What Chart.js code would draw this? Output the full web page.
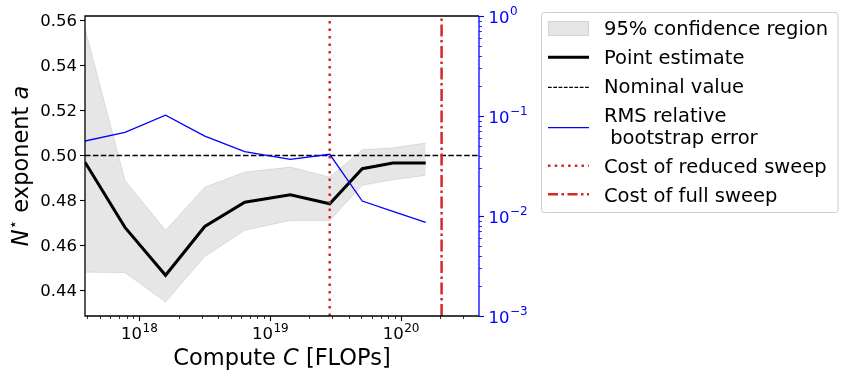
<!DOCTYPE html>
<html>
<head>
<meta charset="utf-8">
<script src="https://cdn.jsdelivr.net/npm/chart.js@4.4.1/dist/chart.umd.min.js"></script>
<style>
  html, body { margin: 0; padding: 0; background: #fff; }
  canvas { display: block; }
</style>
</head>
<body>
<canvas id="sweep" width="849" height="382"></canvas>
<script>
// values
const computeFlops = [3.85e17, 7.78e17, 1.59e18, 3.17e18, 6.41e18, 1.43e19, 2.86e19, 5.07e19, 8.69e19, 1.55e20];
const pointEstimate = [0.497, 0.468, 0.4467, 0.4684, 0.4792, 0.4825, 0.4785, 0.4941, 0.4966, 0.4966];
const ciUpper = [0.5564, 0.4889, 0.4667, 0.4859, 0.4926, 0.4948, 0.4904, 0.5025, 0.5034, 0.5055];
const ciLower = [0.4481, 0.4479, 0.4348, 0.4551, 0.4667, 0.4711, 0.4711, 0.4867, 0.4892, 0.4911];
const rmsError = [0.0562, 0.0687, 0.102, 0.063, 0.044, 0.0369, 0.0414, 0.0141, 0.0111, 0.00865];
const nominalValue = 0.5;
const reducedSweepCost = 2.86e19;
const fullSweepCost = 2.05e20;

const xMin = 3.85e17, xMax = 3.96e20;
const yMin = 0.4286, yMax = 0.562;
const y2Min = 1e-3, y2Max = 1;

const yTickLabels = ['0.44', '0.46', '0.48', '0.50', '0.52', '0.54', '0.56'];
const xTickExps = [18, 19, 20];
const y2TickExps = [-3, -2, -1, 0];

const legendLabels = ['95% confidence region', 'Point estimate', 'Nominal value',
    'RMS relative\n bootstrap error', 'Cost of reduced sweep', 'Cost of full sweep'];

const RED = '#d62728';
const BLUE = '#0000ff';
const BAND = 'rgba(128,128,128,0.2)';
const FONT = '"DejaVu Sans", "Liberation Sans", sans-serif';

function pts(xs, ys) {
    return xs.map((x, i) => ({x: x, y: ys[i]}));
}

function sciLabel(ctx, exp, x, baseY, align, color) {
    const main = '10';
    const sup = String(exp).replace('-', '\u2212');
    ctx.font = '16.5px ' + FONT;
    const w1 = ctx.measureText(main).width;
    ctx.font = '12px ' + FONT;
    const w2 = ctx.measureText(sup).width;
    const x0 = align === 'center' ? x - (w1 + w2) / 2 : x;
    ctx.fillStyle = color;
    ctx.textAlign = 'left';
    ctx.textBaseline = 'alphabetic';
    ctx.font = '16.5px ' + FONT;
    ctx.fillText(main, x0, baseY);
    ctx.font = '12px ' + FONT;
    ctx.fillText(sup, x0 + w1 + 0.5, baseY - 7.5);
}

function hline(ctx, x1, x2, y, color, width, dash) {
    ctx.save();
    ctx.strokeStyle = color;
    ctx.lineWidth = width;
    ctx.setLineDash(dash || []);
    ctx.beginPath();
    ctx.moveTo(x1, y);
    ctx.lineTo(x2, y);
    ctx.stroke();
    ctx.restore();
}

const axesPlugin = {
    id: 'mplAxes',
    afterDraw(chart) {
        const ctx = chart.ctx;
        const a = chart.chartArea;
        const sx = chart.scales.x, sy = chart.scales.y, sy2 = chart.scales.y2;
        ctx.save();

        // tick marks
        ctx.lineWidth = 1;
        ctx.strokeStyle = '#000';
        for (let e = 17; e <= 20; e++) {
            for (let k = 1; k <= 9; k++) {
                const v = k * Math.pow(10, e);
                if (v < xMin || v > xMax) continue;
                const px = Math.round(sx.getPixelForValue(v)) + 0.5;
                const len = k === 1 ? 5 : 3;
                ctx.lineWidth = k === 1 ? 1.1 : 0.8;
                ctx.beginPath();
                ctx.moveTo(px, a.bottom);
                ctx.lineTo(px, a.bottom + len);
                ctx.stroke();
            }
        }
        yTickLabels.forEach(t => {
            const py = Math.round(sy.getPixelForValue(parseFloat(t))) + 0.5;
            ctx.lineWidth = 1.1;
            ctx.beginPath();
            ctx.moveTo(a.left, py);
            ctx.lineTo(a.left - 5, py);
            ctx.stroke();
        });
        ctx.strokeStyle = BLUE;
        for (let e = -3; e <= 0; e++) {
            for (let k = 1; k <= 9; k++) {
                const v = k * Math.pow(10, e);
                if (v < y2Min || v > y2Max) continue;
                const py = Math.round(sy2.getPixelForValue(v)) + 0.5;
                const len = k === 1 ? 5 : 3;
                ctx.lineWidth = k === 1 ? 1.1 : 0.8;
                ctx.beginPath();
                ctx.moveTo(a.right, py);
                ctx.lineTo(a.right + len, py);
                ctx.stroke();
            }
        }

        // spines
        ctx.lineWidth = 1.3;
        ctx.strokeStyle = '#000';
        ctx.beginPath();
        ctx.moveTo(a.right, a.top);
        ctx.lineTo(a.left, a.top);
        ctx.lineTo(a.left, a.bottom);
        ctx.lineTo(a.right, a.bottom);
        ctx.stroke();
        ctx.strokeStyle = BLUE;
        ctx.beginPath();
        ctx.moveTo(a.right, a.top);
        ctx.lineTo(a.right, a.bottom);
        ctx.stroke();

        // tick labels
        ctx.fillStyle = '#000';
        ctx.font = '16.5px ' + FONT;
        ctx.textAlign = 'right';
        ctx.textBaseline = 'alphabetic';
        yTickLabels.forEach(t => {
            const py = sy.getPixelForValue(parseFloat(t));
            ctx.fillText(t, a.left - 8, py + 6);
        });
        xTickExps.forEach(e => {
            sciLabel(ctx, e, sx.getPixelForValue(Math.pow(10, e)), 339, 'center', '#000');
        });
        y2TickExps.forEach(e => {
            sciLabel(ctx, e, a.right + 9.5, sy2.getPixelForValue(Math.pow(10, e)) + 6.5, 'left', BLUE);
        });

        // x axis title
        const tf = '22.5px ' + FONT, tfi = 'italic 22.5px ' + FONT;
        const parts = [['Compute ', tf], ['C', tfi], [' [FLOPs]', tf]];
        let total = 0;
        parts.forEach(p => { ctx.font = p[1]; total += ctx.measureText(p[0]).width; });
        let cx = (a.left + a.right) / 2 - total / 2;
        ctx.textAlign = 'left';
        ctx.fillStyle = '#000';
        parts.forEach(p => { ctx.font = p[1]; ctx.fillText(p[0], cx, 365); cx += ctx.measureText(p[0]).width; });

        // y axis title
        const yparts = [['N', tfi, 0], ['\u22c6', '15.5px ' + FONT, -10], [' exponent ', tf, 0], ['a', tfi, 0]];
        total = 0;
        yparts.forEach(p => { ctx.font = p[1]; total += ctx.measureText(p[0]).width; });
        ctx.save();
        ctx.translate(28, (a.top + a.bottom) / 2);
        ctx.rotate(-Math.PI / 2);
        cx = -total / 2;
        yparts.forEach(p => { ctx.font = p[1]; ctx.fillText(p[0], cx, p[2]); cx += ctx.measureText(p[0]).width; });
        ctx.restore();

        // legend
        ctx.save();
        ctx.beginPath();
        ctx.roundRect(541.5, 12.5, 296.5, 200, 3);
        ctx.fillStyle = 'rgba(255,255,255,0.8)';
        ctx.fill();
        ctx.strokeStyle = '#cccccc';
        ctx.lineWidth = 1;
        ctx.stroke();
        ctx.restore();

        const hx1 = 548, hx2 = 589, tx = 604;
        ctx.fillStyle = BAND;
        ctx.fillRect(hx1, 21, hx2 - hx1, 15);
        ctx.strokeStyle = BAND;
        ctx.lineWidth = 1;
        ctx.strokeRect(hx1 + 0.5, 21.5, hx2 - hx1 - 1, 14);
        hline(ctx, hx1, hx2, 57.3, '#000', 3);
        hline(ctx, hx1, hx2, 87.3, '#000', 1.2, [3.7, 1.6]);
        hline(ctx, hx1, hx2, 127.7, BLUE, 1.3);
        hline(ctx, hx1, hx2, 165.7, RED, 2.5, [2.5, 4.2]);
        hline(ctx, hx1, hx2, 194.3, RED, 2.5, [10, 3.5, 2.5, 3.5]);

        ctx.fillStyle = '#000';
        ctx.font = '19.5px ' + FONT;
        ctx.textAlign = 'left';
        const baselines = [[35.3], [64.3], [93.3], [122.3, 144], [173.3], [201.7]];
        legendLabels.forEach((lab, i) => {
            lab.split('\n').forEach((line, j) => ctx.fillText(line, tx, baselines[i][j]));
        });

        ctx.restore();
    }
};

const ctx = document.getElementById('sweep').getContext('2d');
const sweepChart = new Chart(ctx, {
    type: 'line',
    data: {
        datasets: [
            {
                label: 'lower',
                data: pts(computeFlops, ciLower),
                yAxisID: 'y',
                borderColor: BAND,
                borderWidth: 1,
                fill: false,
                order: 10
            },
            {
                label: '95% confidence region',
                data: pts(computeFlops, ciUpper),
                yAxisID: 'y',
                borderColor: BAND,
                backgroundColor: BAND,
                borderWidth: 1,
                fill: '-1',
                order: 9
            },
            {
                label: 'Point estimate',
                data: pts(computeFlops, pointEstimate),
                yAxisID: 'y',
                borderColor: '#000',
                borderWidth: 3,
                borderJoinStyle: 'miter',
                order: 8
            },
            {
                label: 'Nominal value',
                data: [{x: xMin, y: nominalValue}, {x: xMax, y: nominalValue}],
                yAxisID: 'y',
                borderColor: '#000',
                borderWidth: 1.4,
                borderDash: [5.5, 2.4],
                order: 7
            },
            {
                label: 'Cost of reduced sweep',
                data: [{x: reducedSweepCost, y: yMin}, {x: reducedSweepCost, y: yMax}],
                yAxisID: 'y',
                borderColor: RED,
                borderWidth: 2.5,
                borderDash: [2.5, 5],
                order: 6
            },
            {
                label: 'Cost of full sweep',
                data: [{x: fullSweepCost, y: yMin}, {x: fullSweepCost, y: yMax}],
                yAxisID: 'y',
                borderColor: RED,
                borderWidth: 2.5,
                borderDash: [12, 3.5, 2.5, 3.5],
                order: 5
            },
            {
                label: 'RMS relative bootstrap error',
                data: pts(computeFlops, rmsError),
                yAxisID: 'y2',
                borderColor: BLUE,
                borderWidth: 1.3,
                order: 1
            }
        ]
    },
    options: {
        responsive: false,
        animation: false,
        devicePixelRatio: 1,
        layout: {padding: {left: 0, top: 16, right: 320, bottom: 0}},
        elements: {
            point: {radius: 0, hoverRadius: 0},
            line: {tension: 0, borderCapStyle: 'butt'}
        },
        plugins: {
            legend: {display: false},
            tooltip: {enabled: false}
        },
        events: [],
        scales: {
            x: {
                type: 'logarithmic',
                min: xMin,
                max: xMax,
                grid: {display: false},
                border: {display: false},
                ticks: {display: false},
                afterFit: s => { s.height = 66; }
            },
            y: {
                type: 'linear',
                position: 'left',
                min: yMin,
                max: yMax,
                grid: {display: false},
                border: {display: false},
                ticks: {display: false},
                afterFit: s => { s.width = 85; }
            },
            y2: {
                type: 'logarithmic',
                position: 'right',
                min: y2Min,
                max: y2Max,
                grid: {display: false},
                border: {display: false},
                ticks: {display: false},
                afterFit: s => { s.width = 50; }
            }
        }
    },
    plugins: [axesPlugin]
});
</script>
</body>
</html>
